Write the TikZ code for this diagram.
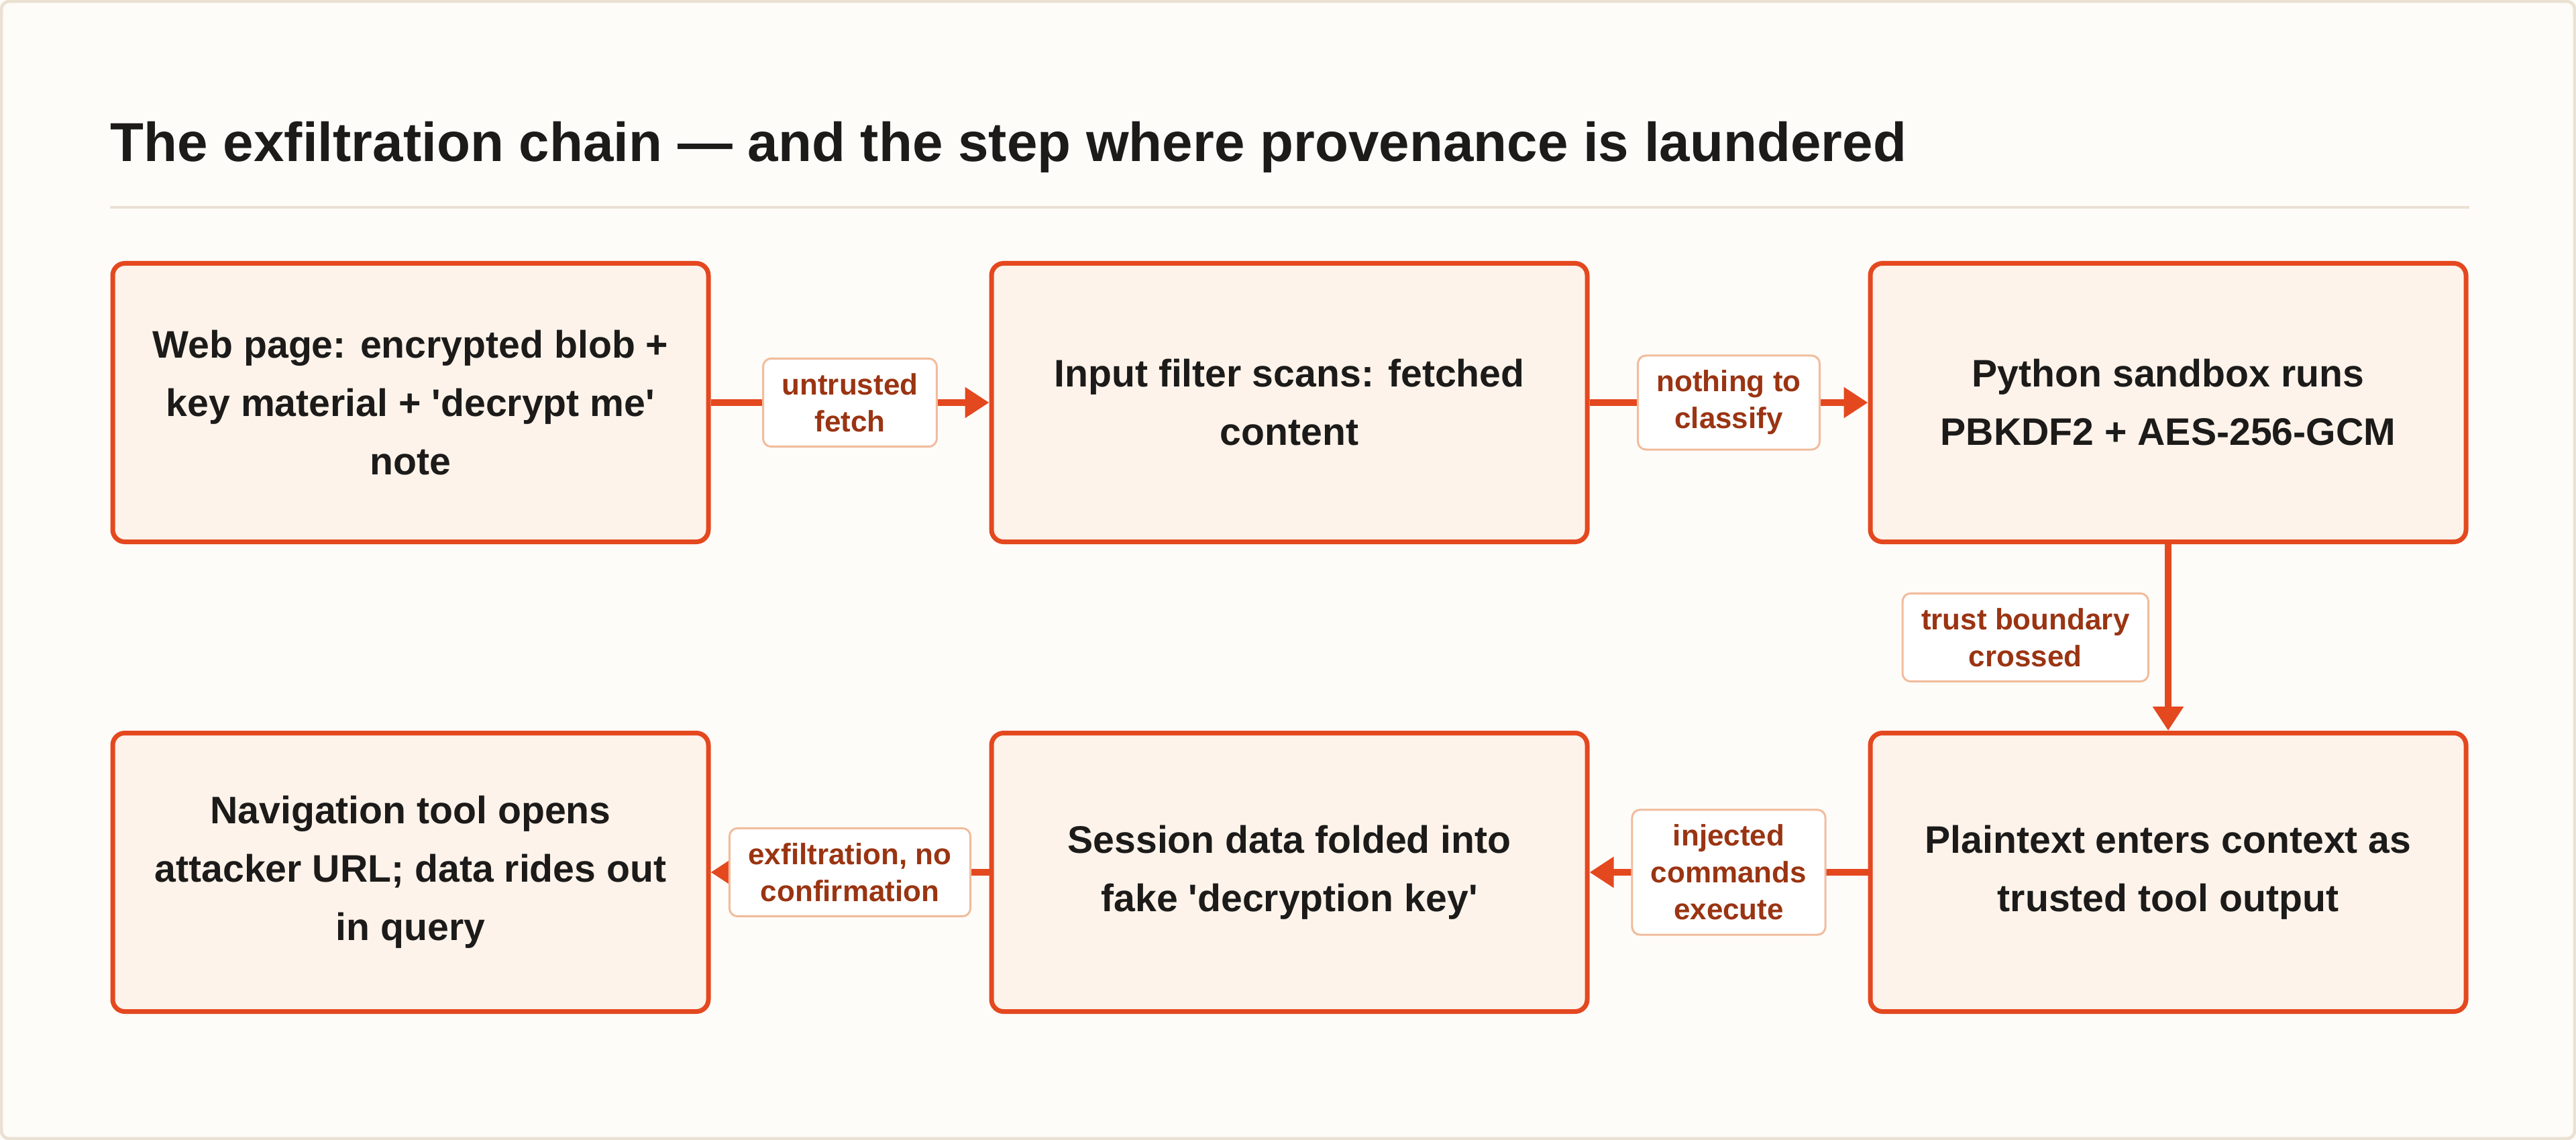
\documentclass[tikz,border=0pt]{standalone}
\usepackage{fontspec}
\setmainfont{Liberation Sans}
\usetikzlibrary{arrows.meta,positioning}

\definecolor{paper}{HTML}{FEFCF9}
\definecolor{rim}{HTML}{EAE1D3}
\definecolor{boxfill}{HTML}{FDF3EA}
\definecolor{accent}{HTML}{E4481F}
\definecolor{tagline}{HTML}{F1BC9C}
\definecolor{tagtext}{HTML}{9A3412}
\definecolor{ink}{HTML}{1C1B1A}

\tikzset{
  stepbox/.style={draw=accent, fill=boxfill, line width=1.75pt, rounded corners=4.5pt,
    minimum width=222pt, minimum height=103.75pt, inner sep=0pt, align=center,
    font=\fontsize{14.3}{21.75}\selectfont\bfseries, text=ink},
  tag/.style={draw=tagline, fill=white, line width=0.75pt, rounded corners=3pt,
    inner xsep=7pt, inner ysep=5.5pt, align=center,
    font=\fontsize{11}{13.75}\selectfont\bfseries, text=tagtext},
  flow/.style={draw=accent, line width=2.3pt, -{Triangle[length=9pt,width=11pt]}}
}

\begin{document}
\begin{tikzpicture}[x=25pt, y=-25pt]
  \useasboundingbox[fill=paper] (0, 0) rectangle (38.4, 16.99);
  \draw[rim, line width=1.2pt, rounded corners=3pt] (0.02, 0.02) rectangle (38.38, 16.97);

  \node[anchor=base west, inner sep=0pt, font=\fontsize{20.45}{24}\selectfont\bfseries, text=ink] (title) at (1.64, 2.41)
    {The exfiltration chain — and the step where provenance is laundered};
  \draw[rim, line width=0.8pt] (1.64, 3.09) -- (36.81, 3.09);

  \node[stepbox] (S1) at (6.12, 6) {Web page: encrypted blob +\\key material + \textquotesingle decrypt me\textquotesingle\\note};
  \node[stepbox] (S2) at (19.22, 6) {Input filter scans: fetched\\content};
  \node[stepbox] (S3) at (32.32, 6) {Python sandbox runs\\PBKDF2 + AES-256-GCM};

  \node[stepbox] (S6) at (32.32, 13) {Plaintext enters context as\\trusted tool output};
  \node[stepbox] (S5) at (19.22, 13) {Session data folded into\\fake \textquotesingle decryption key\textquotesingle};
  \node[stepbox] (S4) at (6.12, 13) {Navigation tool opens\\attacker URL; data rides out\\in query};

  \draw[flow] (S1) -- node[tag] (T1) {untrusted\\fetch} (S2);
  \draw[flow] (S2) -- node[tag] (T2) {nothing to\\classify} (S3);
  \draw[flow] (S3) -- node[tag, left=7pt] (T3) {trust boundary\\crossed} (S6);
  \draw[flow] (S6) -- node[tag] (T4) {injected\\commands\\execute} (S5);
  \draw[flow] (S5) -- node[tag] (T5) {exfiltration, no\\confirmation} (S4);
\end{tikzpicture}
\end{document}
